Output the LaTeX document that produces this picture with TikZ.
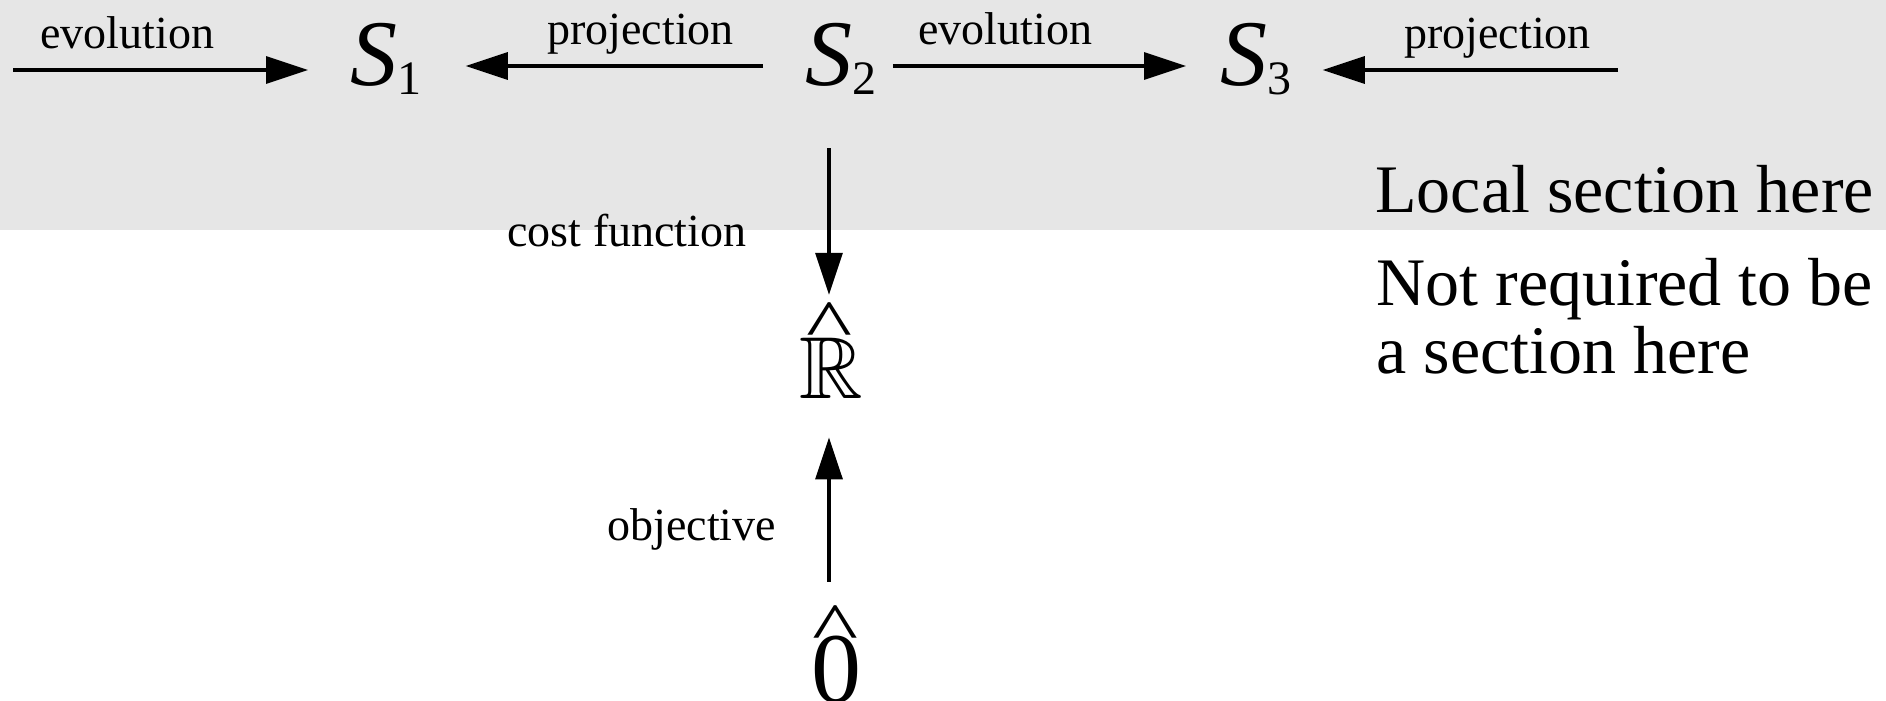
\documentclass[tikz,border=0pt]{standalone}
\usepackage{graphicx}
\usepackage{amssymb}
\usepackage{fontspec}
\setmainfont{Liberation Serif}
\usetikzlibrary{arrows.meta}
\definecolor{band}{RGB}{230,230,230}
% subscript of a state symbol
\newcommand{\stsub}[1]{\raisebox{-4.5pt}{\fontsize{24}{28}\selectfont #1}}
% wide hat placed above a symbol
\newcommand{\widecaret}{\scalebox{1.4}[1]{\textasciicircum}}
\tikzset{
  arr/.style={line width=1.65pt, -{Triangle[length=21pt,width=13.5pt]}},
  lbl/.style={anchor=base west, inner sep=0pt, font=\fontsize{23}{27}\selectfont},
  note/.style={anchor=base west, inner sep=0pt, font=\fontsize{34}{40}\selectfont},
  state/.style={anchor=base west, inner sep=0pt, font=\fontsize{47}{55}\selectfont},
  hatglyph/.style={anchor=base, inner sep=0pt, font=\fontsize{35}{40}\selectfont},
  bigsym/.style={anchor=base, inner sep=0pt},
}
\begin{document}
\begin{tikzpicture}[x=0.5pt,y=-0.5pt]
\useasboundingbox (0,0) rectangle (1886,701);
% shaded strip of the local section
\fill[band] (0,0) rectangle (1886,230);

% states
\node[state] (S1) at (350,86) {\textit{S}\stsub{1}};
\node[state] (S2) at (805,86) {\textit{S}\stsub{2}};
\node[state] (S3) at (1220,86) {\textit{S}\stsub{3}};

% extended reals and zero
\node[hatglyph] (Rhat) at (829,348) {\widecaret};
\node[bigsym, font=\fontsize{44}{50}\selectfont] (R) at (831,398) {\(\mathbb{R}\)};
\node[hatglyph] (Ohat) at (835,651) {\widecaret};
\node[bigsym, font=\fontsize{50}{56}\selectfont] (zero) at (836,702) {0};

% arrows along the top row
\coordinate (a1) at (13,70);
\coordinate (a4) at (1618,70);
\coordinate (yA) at (0,66);
\draw[arr, shorten >=21pt] (a1) -- (a1 -| S1.west);
\draw[arr, shorten <=21pt, shorten >=22pt] (S2.west |- yA) -- (S1.east |- yA);
\draw[arr, shorten <=8pt, shorten >=17pt] (S2.east |- yA) -- (S3.west |- yA);
\draw[arr, shorten >=15.5pt] (a4) -- (a4 -| S3.east);

% vertical arrows
\draw[arr, shorten >=3.5pt] (S2.south -| Rhat.north) ++(0,53) -- (Rhat.north);
\draw[arr, shorten <=11.5pt, shorten >=19.5pt] (Ohat.north -| Rhat.north) -- (R.south -| Rhat.north);

% arrow labels
\node[lbl] (l1) at (40,49) {evolution};
\node[lbl] (l2) at (547,45) {projection};
\node[lbl] (l3) at (918,45) {evolution};
\node[lbl] (l4) at (1404,49) {projection};
\node[lbl] (l5) at (507,247) {cost function};
\node[lbl] (l6) at (607,540) {objective};

% notes on the right
\node[note] (n1) at (1375,213) {Local section here};
\node[note] (n2) at (1376,305) {Not required to be};
\node[note] (n3) at (1376,373) {a section here};
\end{tikzpicture}
\end{document}
